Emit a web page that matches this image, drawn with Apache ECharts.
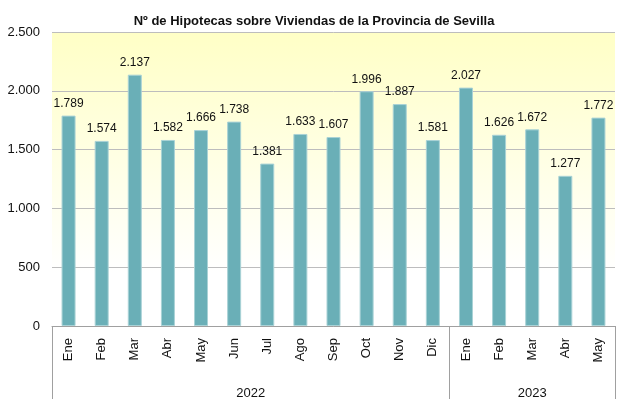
<!DOCTYPE html>
<html>
<head>
<meta charset="utf-8">
<script src="https://cdn.jsdelivr.net/npm/echarts@6/dist/echarts.min.js"></script>
<style>
html, body { margin: 0; padding: 0; background: #fff; }
#chart { width: 624px; height: 399px; }
</style>
</head>
<body>
<div id="chart"></div>
<script>
var months = ['Ene', 'Feb', 'Mar', 'Abr', 'May', 'Jun', 'Jul', 'Ago', 'Sep', 'Oct', 'Nov', 'Dic',
              'Ene', 'Feb', 'Mar', 'Abr', 'May'];
var hipotecas = [1789, 1574, 2137, 1582, 1666, 1738, 1381, 1633, 1607, 1996, 1887, 1581,
                 2027, 1626, 1672, 1277, 1772];
var years = ['2022', '2023'];
var yearCounts = [12, 5];
var yTicks = [0, 500, 1000, 1500, 2000, 2500];

var fontName = 'Liberation Sans';

// miles con punto
function fmt(v) {
    return String(v).replace(/\B(?=(\d{3})+(?!\d))/g, '.');
}

// limites y centros de cada año, en unidades de categoria
var yearBounds = [0];
var yearMids = [];
var yearMid = {};
var acc = 0;
for (var i = 0; i < years.length; i++) {
    yearMids.push(acc + yearCounts[i] / 2);
    yearMid[acc + yearCounts[i] / 2] = years[i];
    acc += yearCounts[i];
    yearBounds.push(acc);
}

var chart = echarts.init(document.getElementById('chart'), null, { renderer: 'canvas' });

var option = {
    animation: false,
    title: {
        text: 'Nº de Hipotecas sobre Viviendas de la Provincia de Sevilla',
        left: 309,
        textAlign: 'center',
        top: 10,
        textStyle: { fontFamily: fontName, fontSize: 13, fontWeight: 'bold', color: '#111' }
    },
    grid: {
        left: 52, right: 9, top: 32, bottom: 73,
        outerBoundsMode: 'none',
        show: true,
        borderWidth: 0,
        backgroundColor: new echarts.graphic.LinearGradient(0, 0, 0, 1, [
            { offset: 0, color: '#FFFFC6' },
            { offset: 0.82, color: '#FFFFFF' },
            { offset: 1, color: '#FFFFFF' }
        ])
    },
    xAxis: [{
        type: 'category',
        data: months,
        axisLine: { lineStyle: { color: '#A0A0A0', width: 1 } },
        axisTick: { length: 46, lineStyle: { color: '#A0A0A0' } },
        axisLabel: {
            rotate: 90,
            margin: 12,
            fontFamily: fontName,
            fontSize: 13,
            color: '#111'
        }
    }, {
        // fila de años: divisiones y rotulos
        type: 'value',
        position: 'bottom',
        min: 0,
        max: months.length,
        axisLine: { show: false },
        splitLine: { show: false },
        axisTick: {
            show: true,
            customValues: yearBounds,
            length: 76,
            lineStyle: { color: '#A0A0A0' }
        },
        axisLabel: {
            customValues: yearMids,
            showMinLabel: true,
            showMaxLabel: true,
            margin: 61,
            fontFamily: fontName,
            fontSize: 13,
            color: '#111',
            formatter: function(v) { return yearMid[v] || ''; }
        }
    }],
    yAxis: {
        type: 'value',
        min: yTicks[0],
        max: yTicks[yTicks.length - 1],
        interval: yTicks[1] - yTicks[0],
        axisLine: { show: false },
        axisTick: { show: false },
        splitLine: { lineStyle: { color: '#BDBDBD', width: 1 } },
        axisLabel: {
            margin: 12,
            fontFamily: fontName,
            fontSize: 13,
            color: '#111',
            formatter: function(v) { return fmt(v); }
        }
    },
    series: [{
        type: 'bar',
        data: hipotecas,
        barWidth: 14,
        itemStyle: { color: '#6AAFB7', borderColor: '#A9D2D6', borderWidth: 1 },
        label: {
            show: true,
            position: 'top',
            distance: 6,
            fontFamily: fontName,
            fontSize: 12,
            color: '#111',
            formatter: function(p) { return fmt(p.value); }
        }
    }]
};

chart.setOption(option);
</script>
</body>
</html>
